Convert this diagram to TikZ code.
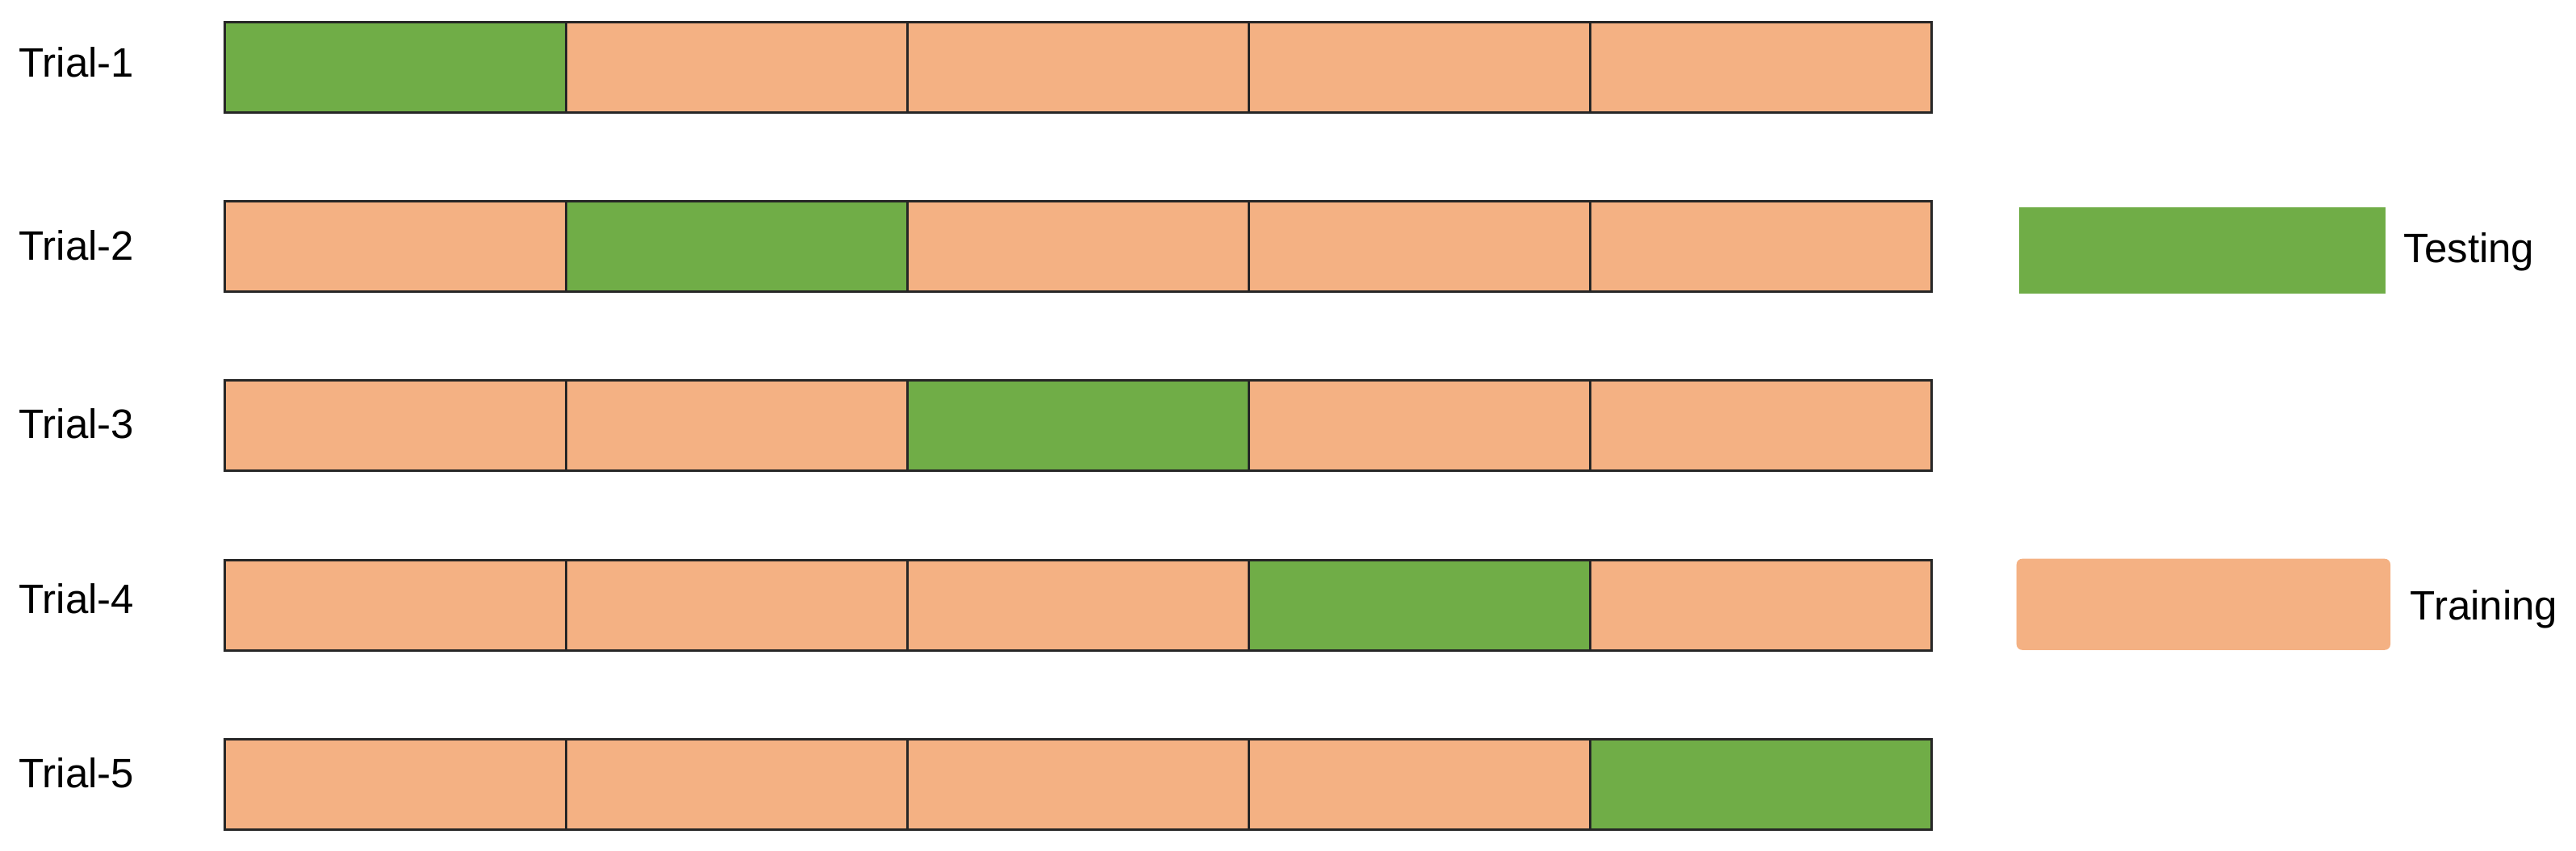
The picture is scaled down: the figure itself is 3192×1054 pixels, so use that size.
\documentclass[tikz,border=0pt]{standalone}
\usepackage{fontspec}
\setmainfont{Liberation Sans}
\definecolor{testc}{HTML}{70AD47}
\definecolor{trainc}{HTML}{F4B183}
\begin{document}
\begin{tikzpicture}[x=0.01cm,y=-0.01cm,
  cell/.style={draw=black!85,line width=0.85pt,minimum width=4.23cm,minimum height=1.12cm,inner sep=0pt,anchor=north west},
  trcell/.style={cell,fill=trainc},
  tecell/.style={cell,fill=testc},
  lbl/.style={anchor=base west,inner sep=0pt,font=\fontsize{14.5}{17}\selectfont}]
\useasboundingbox (0,0) rectangle (3192,1054);
% rows
\foreach \r/\top/\base in {1/26/95,2/248/322,3/470/543,4/693/760,5/915/976}{
  \node[lbl] (t\r) at (23,\base) {Trial-\r};
  \foreach \c in {1,...,5}{
    \pgfmathtruncatemacro{\xx}{277+(\c-1)*423}
    \ifnum\c=\r
      \node[tecell] (r\r c\c) at (\xx,\top) {};
    \else
      \node[trcell] (r\r c\c) at (\xx,\top) {};
    \fi
  }
}
% legend
\node[fill=testc,minimum width=4.54cm,minimum height=1.07cm,inner sep=0pt,anchor=north west] (legte) at (2501,256) {};
\node[lbl] (legtet) at (2978,325) {Testing};
\node[fill=trainc,rounded corners=2pt,minimum width=4.63cm,minimum height=1.13cm,inner sep=0pt,anchor=north west] (legtr) at (2498,692) {};
\node[lbl] (legtrt) at (2986,768) {Training};
\end{tikzpicture}
\end{document}
